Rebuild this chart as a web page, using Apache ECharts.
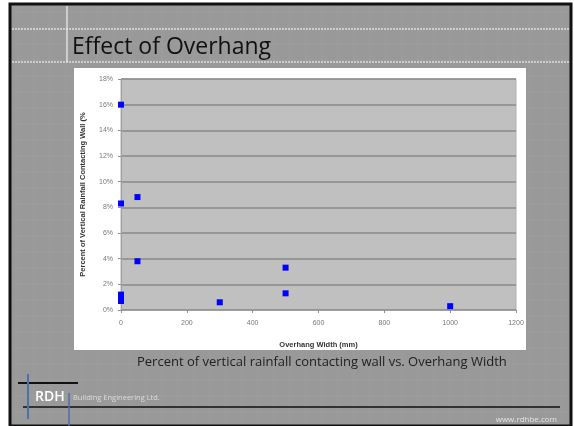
<!DOCTYPE html>
<html>
<head>
<meta charset="utf-8">
<script src="https://cdn.jsdelivr.net/npm/echarts@6/dist/echarts.min.js"></script>
<style>
  html, body { margin: 0; padding: 0; background: #ffffff; }
  #chart { width: 574px; height: 426px; }
</style>
</head>
<body>
<div id="chart"></div>
<script>
// Overhang width (mm) and share of vertical rainfall reaching the wall (%)
const overhangWidths = [0, 0, 0, 0, 0, 50, 50, 300, 500, 500, 1000];
const wallWettingPct = [16.0, 8.3, 1.2, 0.95, 0.7, 8.8, 3.8, 0.6, 3.3, 1.3, 0.3];

const xTicks = [0, 200, 400, 600, 800, 1000, 1200];
const yTicks = [0, 2, 4, 6, 8, 10, 12, 14, 16, 18];

const slideTitle = 'Effect of Overhang';
const caption = 'Percent of vertical rainfall contacting wall vs. Overhang Width';
const xName = 'Overhang Width (mm)';
const yName = 'Percent of Vertical Rainfall Contacting Wall (%';

const points = overhangWidths.map((w, i) => [w, wallWettingPct[i]]);

// slide backdrop: grey panel with faint tile lines
const deco = [];
deco.push({ type: 'rect', z: -10, shape: { x: 10, y: 4, width: 561, height: 422 },
  style: { fill: '#999999', stroke: '#111111', lineWidth: 3 } });
for (let x = 18; x < 570; x += 16) {
  deco.push({ type: 'line', z: -9, shape: { x1: x, y1: 6, x2: x, y2: 424 },
    style: { stroke: 'rgba(255,255,255,0.06)', lineWidth: 1 } });
}
for (let y = 12; y < 425; y += 16) {
  deco.push({ type: 'line', z: -9, shape: { x1: 12, y1: y, x2: 569, y2: y },
    style: { stroke: 'rgba(255,255,255,0.06)', lineWidth: 1 } });
}
// title band rules
deco.push({ type: 'line', z: -8, shape: { x1: 12, y1: 29, x2: 569, y2: 29 },
  style: { stroke: '#ffffff', lineWidth: 1, lineDash: [2, 1] } });
deco.push({ type: 'line', z: -8, shape: { x1: 12, y1: 62, x2: 569, y2: 62 },
  style: { stroke: '#ffffff', lineWidth: 1, lineDash: [2, 1] } });
deco.push({ type: 'line', z: -8, shape: { x1: 67, y1: 6, x2: 67, y2: 62 },
  style: { stroke: '#ffffff', lineWidth: 1 } });
deco.push({ type: 'text', z: 5, style: { x: 72, y: 47, text: slideTitle, fill: '#111111',
  font: '23px "Open Sans", sans-serif', textVerticalAlign: 'middle' } });
// white card behind the plot
deco.push({ type: 'rect', z: -7, shape: { x: 74, y: 68, width: 452, height: 282 },
  style: { fill: '#ffffff' } });
deco.push({ type: 'text', z: 5, style: { x: 137, y: 362, text: caption, fill: '#1e1e1e',
  font: '13px "Open Sans", sans-serif', textVerticalAlign: 'middle' } });
// footer branding
deco.push({ type: 'line', z: 4, shape: { x1: 18, y1: 383, x2: 78, y2: 383 },
  style: { stroke: '#111111', lineWidth: 2 } });
deco.push({ type: 'line', z: 4, shape: { x1: 23, y1: 407, x2: 560, y2: 407 },
  style: { stroke: '#111111', lineWidth: 1.5 } });
deco.push({ type: 'line', z: 5, shape: { x1: 28, y1: 374, x2: 28, y2: 419 },
  style: { stroke: '#4f6fa8', lineWidth: 2 } });
deco.push({ type: 'line', z: 5, shape: { x1: 69, y1: 393, x2: 69, y2: 426 },
  style: { stroke: '#4f6fa8', lineWidth: 1.5 } });
deco.push({ type: 'text', z: 5, style: { x: 35, y: 397, text: 'RDH', fill: '#ffffff',
  font: '600 14px "Open Sans", sans-serif', textVerticalAlign: 'middle' } });
deco.push({ type: 'text', z: 5, style: { x: 73, y: 398, text: 'Building Engineering Ltd.', fill: '#dddddd',
  font: '7.5px "Open Sans", sans-serif', textVerticalAlign: 'middle' } });
deco.push({ type: 'text', z: 5, style: { x: 557, y: 420, text: 'www.rdhbe.com', fill: '#e4e4e4',
  font: '8px "Open Sans", sans-serif', textAlign: 'right', textVerticalAlign: 'middle' } });

const chart = echarts.init(document.getElementById('chart'), null, { renderer: 'canvas' });
chart.setOption({
  animation: false,
  backgroundColor: 'transparent',
  graphic: deco,
  grid: { left: 121, top: 79, right: 58, bottom: 116, show: true,
    backgroundColor: '#c0c0c0', borderColor: '#b0b0b0', borderWidth: 1 },
  xAxis: {
    type: 'value', min: xTicks[0], max: xTicks[xTicks.length - 1], interval: 200,
    name: xName, nameLocation: 'middle', nameGap: 31,
    nameTextStyle: { fontFamily: 'Liberation Sans', fontWeight: 'bold', fontSize: 7.5, color: '#333333' },
    axisLine: { show: true, lineStyle: { color: '#a0a0a0' } },
    axisTick: { show: true, length: 3, lineStyle: { color: '#909090' } },
    axisLabel: { fontFamily: 'Liberation Sans', fontSize: 7, color: '#777777', margin: 10,
      formatter: v => String(v) },
    splitLine: { show: false }
  },
  yAxis: {
    type: 'value', min: yTicks[0], max: yTicks[yTicks.length - 1], interval: 2,
    name: yName, nameLocation: 'middle', nameGap: 34,
    nameTextStyle: { fontFamily: 'Liberation Sans', fontWeight: 'bold', fontSize: 7.5, color: '#333333' },
    axisLine: { show: true, lineStyle: { color: '#a0a0a0' } },
    axisTick: { show: true, length: 3, lineStyle: { color: '#909090' } },
    axisLabel: { fontFamily: 'Liberation Sans', fontSize: 7, color: '#777777', margin: 8,
      formatter: v => v + '%' },
    splitLine: { show: true, lineStyle: { color: '#8a8a8a', width: 1.5 } }
  },
  series: [{
    type: 'scatter', data: points, symbol: 'rect', symbolSize: 6,
    itemStyle: { color: '#0000ff', opacity: 1 }
  }]
});
</script>
</body>
</html>
